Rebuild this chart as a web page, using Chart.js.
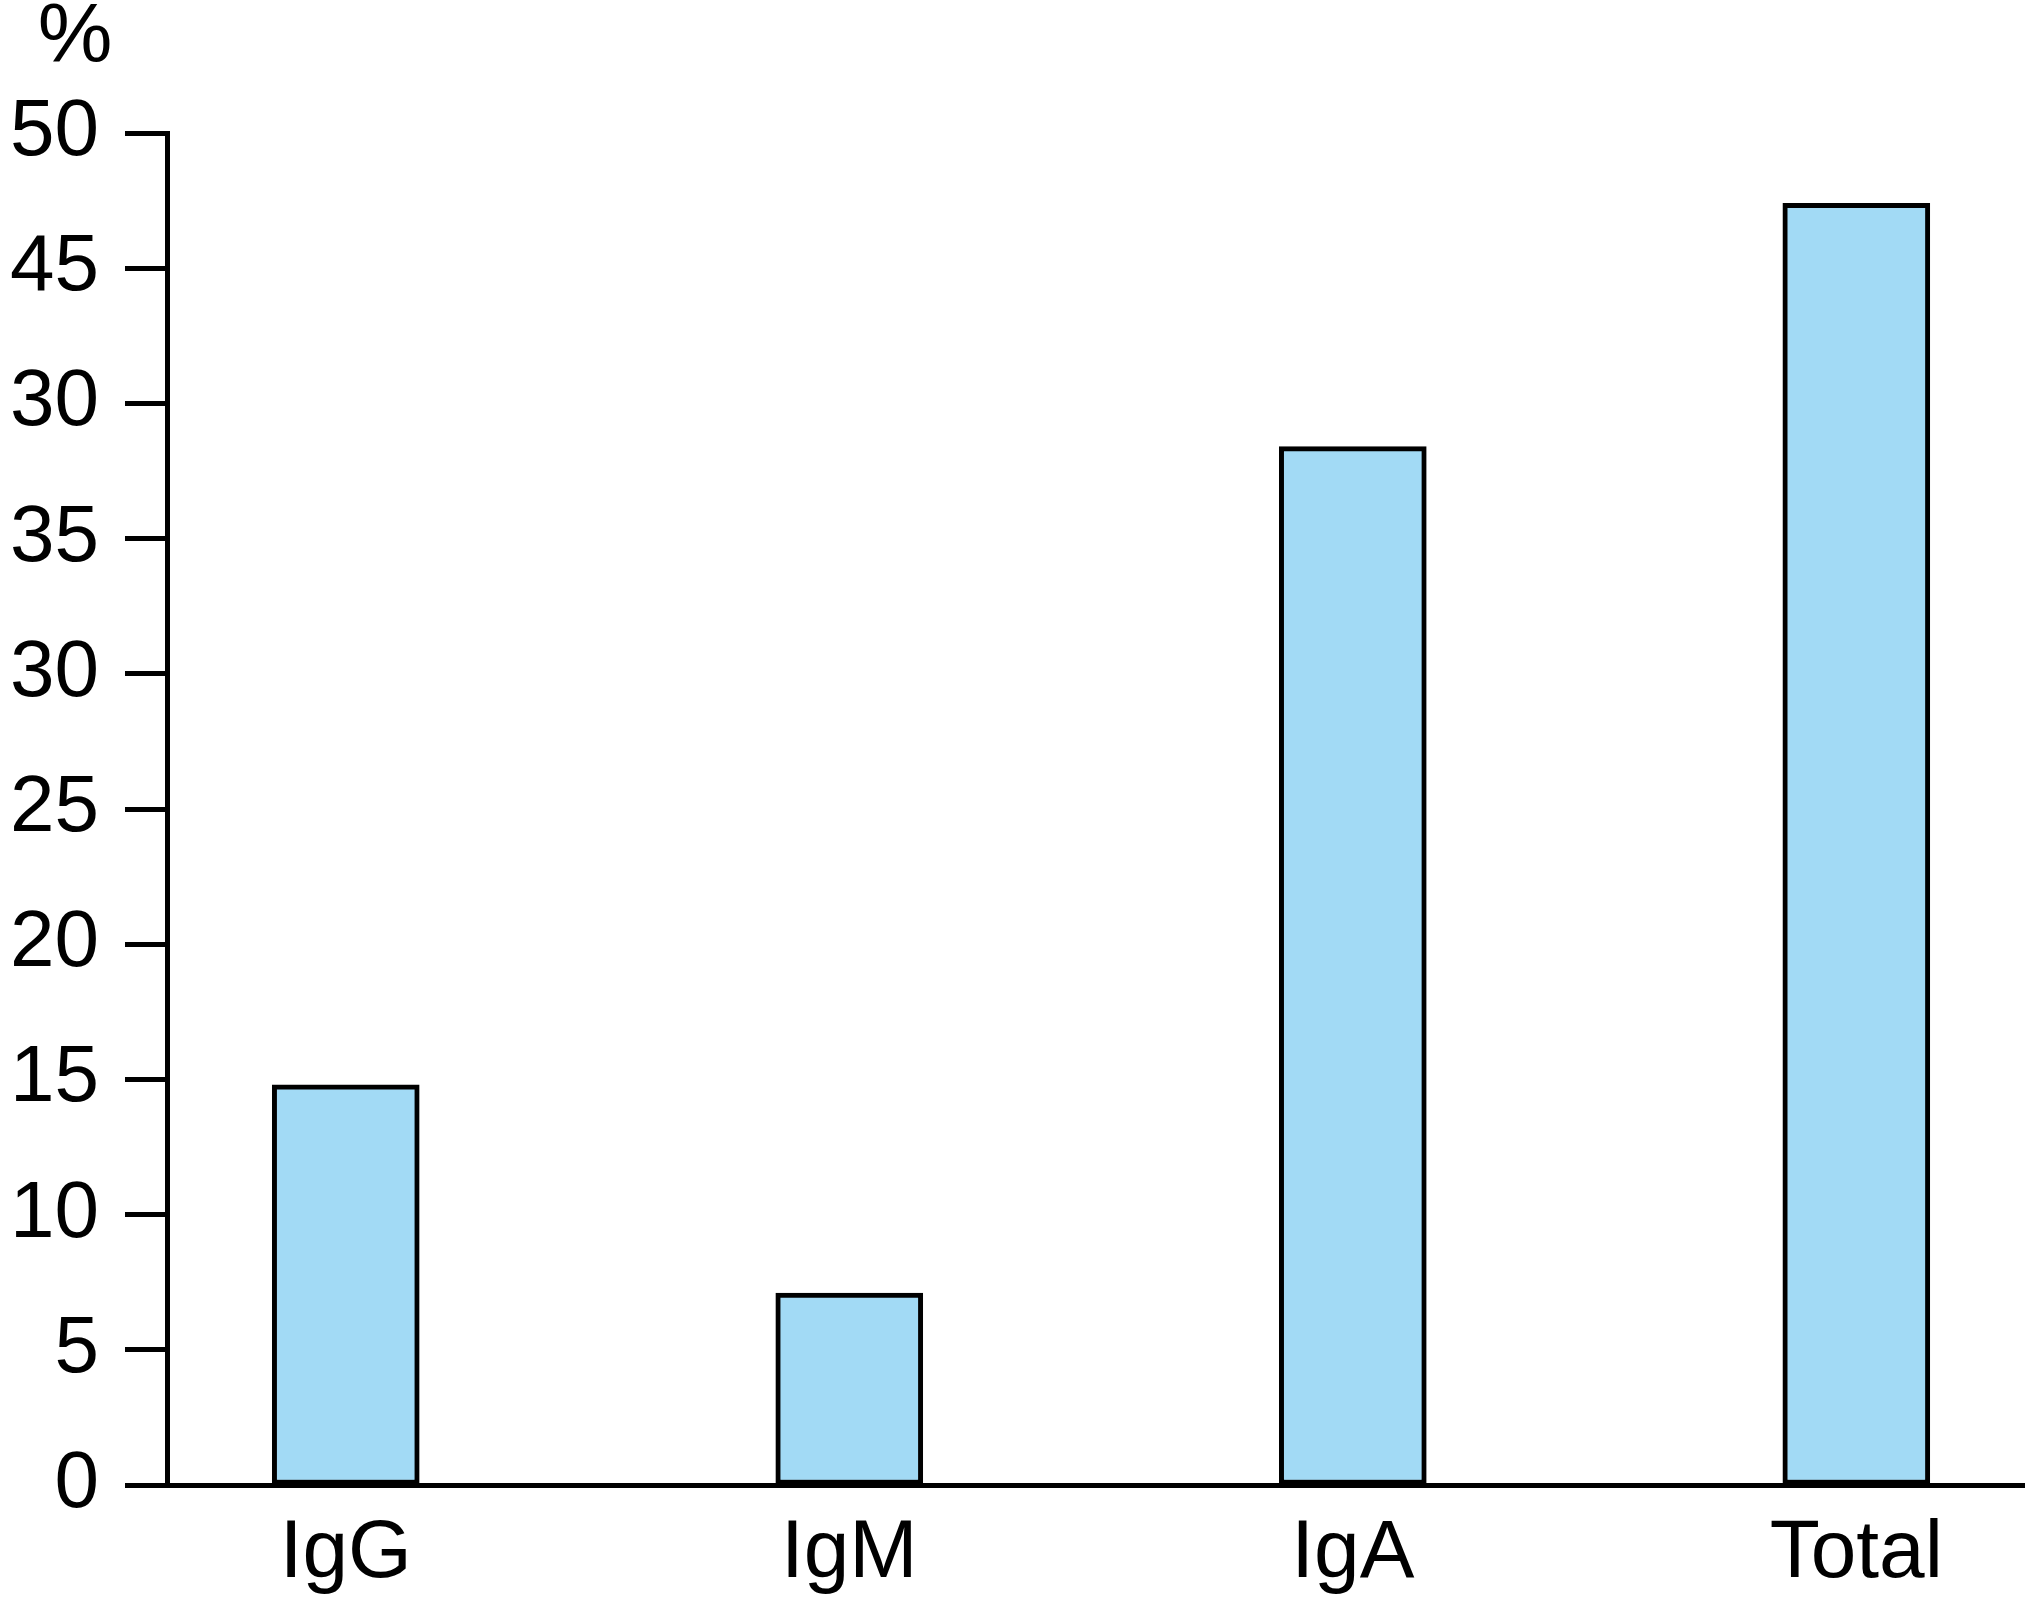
<!DOCTYPE html>
<html>
<head>
<meta charset="utf-8">
<script src="https://cdn.jsdelivr.net/npm/chart.js@4"></script>
<style>
  html, body { margin: 0; padding: 0; background: #fff; }
  #wrap { width: 2025px; height: 1600px; }
</style>
</head>
<body>
<div id="wrap"><canvas id="grafico" width="2025" height="1600"></canvas></div>
<script>
// Dados do gráfico
var categorias = ['IgG', 'IgM', 'IgA', 'Total'];
var valores = [14.8, 7.1, 38.4, 47.4];
var valoresTicksY = [0, 5, 10, 15, 20, 25, 30, 35, 40, 45, 50];
var rotulosTicksY = ['0', '5', '10', '15', '20', '25', '30', '35', '30', '45', '50'];
var unidade = '%';

var fonte = "'Liberation Sans', Arial, sans-serif";

// Desenha o "%" acima do eixo y
var rotuloUnidade = {
    id: 'rotuloUnidade',
    afterDraw: function (chart) {
        var c = chart.ctx;
        var y = chart.scales.y;
        c.save();
        c.font = '84px ' + fonte;
        c.fillStyle = '#000';
        c.textAlign = 'center';
        c.textBaseline = 'alphabetic';
        c.fillText(unidade, y.left + 75, 62);
        c.restore();
    }
};

var ctx = document.getElementById('grafico').getContext('2d');

var grafico = new Chart(ctx, {
    type: 'bar',
    data: {
        datasets: [{
            data: valores.map(function (v, i) { return { x: i, y: v }; }),
            backgroundColor: '#a2daf5',
            borderColor: '#000',
            borderWidth: 5,
            borderSkipped: false,
            barThickness: 147
        }]
    },
    options: {
        responsive: false,
        animation: false,
        layout: { padding: { top: 133, right: 0, bottom: 0, left: 0 } },
        plugins: {
            legend: { display: false },
            tooltip: { enabled: false }
        },
        scales: {
            x: {
                type: 'linear',
                offset: false,
                min: -0.355,
                max: 3.335,
                afterBuildTicks: function (scale) {
                    scale.ticks = categorias.map(function (c, i) { return { value: i }; });
                },
                afterFit: function (scale) { scale.height = 115; },
                ticks: {
                    callback: function (v) { return categorias[v]; },
                    font: { family: fonte, size: 82 },
                    color: '#000',
                    padding: 20,
                    maxRotation: 0,
                    autoSkip: false
                },
                grid: { display: false, drawTicks: false, offset: false },
                border: { display: true, color: '#000', width: 5 }
            },
            y: {
                min: 0,
                max: 50,
                afterBuildTicks: function (scale) {
                    scale.ticks = valoresTicksY.map(function (v) { return { value: v }; });
                },
                afterFit: function (scale) { scale.width = 167; },
                ticks: {
                    callback: function (v, i) { return rotulosTicksY[i]; },
                    font: { family: fonte, size: 80 },
                    color: '#000',
                    padding: 26,
                    autoSkip: false
                },
                grid: {
                    drawOnChartArea: false,
                    drawTicks: true,
                    tickLength: 42,
                    tickWidth: 5,
                    tickColor: '#000'
                },
                border: { display: true, color: '#000', width: 5 }
            }
        }
    },
    plugins: [rotuloUnidade]
});
</script>
</body>
</html>
